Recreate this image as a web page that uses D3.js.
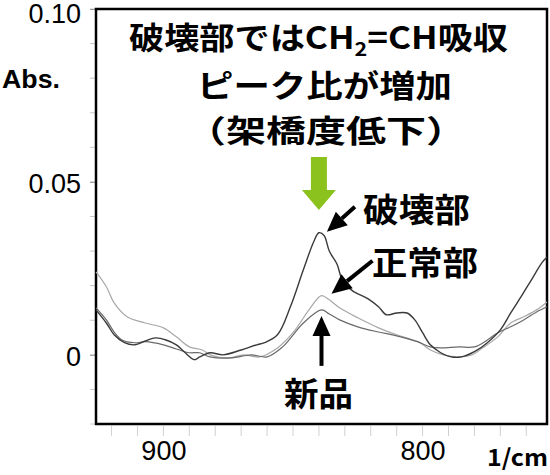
<!DOCTYPE html>
<html><head><meta charset="utf-8"/>
<script src="https://d3js.org/d3.v7.min.js"></script>
<style>
  body { margin: 0; padding: 0; background: #fff; }
  svg text { font-family: "Noto Sans CJK JP", "Noto Sans", sans-serif; }
  .num { font-family: "Liberation Sans", Arial, sans-serif; }
</style>
</head>
<body>
<div id="chart"></div>
<script>
// FT-IR spectra (wavenumber in 1/cm, absorbance)
const hakaiWn  = [926,922,919,915,911,907,903,899,895,892,888,886,882,877,870,864,861,856,851,846,842,840,838,836,833,831,827,821,817,814,810,806,803,800,797,793,789,785,780,775,770,766,762,758,754,752];
const hakaiAbs = [0.0130,0.0092,0.0058,0.0035,0.0029,0.0040,0.0049,0.0043,0.0029,0.0009,-0.0014,-0.0006,0.0006,0.0000,0.0014,0.0029,0.0035,0.0058,0.0139,0.0246,0.0327,0.0353,0.0345,0.0300,0.0262,0.0217,0.0185,0.0162,0.0139,0.0116,0.0121,0.0121,0.0101,0.0064,0.0029,0.0006,-0.0006,-0.0006,0.0009,0.0035,0.0072,0.0121,0.0168,0.0217,0.0266,0.0283];

const seijoWn  = [926,922,919,914,907,900,895,890,885,882,875,869,863,856,850,843,839,836,832,825,817,810,805,801,797,792,786,781,778,771,766,761,756,752];
const seijoAbs = [0.0240,0.0197,0.0150,0.0110,0.0092,0.0078,0.0052,0.0023,0.0014,0.0000,-0.0009,0.0000,-0.0006,0.0020,0.0064,0.0139,0.0171,0.0159,0.0136,0.0107,0.0078,0.0058,0.0046,0.0035,0.0014,0.0000,-0.0006,0.0000,0.0014,0.0052,0.0092,0.0110,0.0130,0.0153];

const shinpinWn  = [926,922,919,916,911,907,900,895,890,886,882,874,866,860,854,846,839,836,832,825,817,810,802,797,793,786,780,775,771,766,761,756,752];
const shinpinAbs = [0.0136,0.0101,0.0066,0.0043,0.0035,0.0038,0.0029,0.0017,0.0006,0.0006,-0.0006,-0.0009,0.0000,-0.0006,0.0023,0.0092,0.0130,0.0118,0.0101,0.0081,0.0066,0.0055,0.0038,0.0023,0.0020,0.0023,0.0023,0.0043,0.0064,0.0081,0.0101,0.0124,0.0139];

const xTicks = [900, 800];
const yTicks = [0, 0.05, 0.10];
const yTickLabels = ["0", "0.05", "0.10"];

const width = 550, height = 475;
const svg = d3.select("#chart").append("svg")
  .attr("width", width).attr("height", height);

const x = d3.scaleLinear().domain([926, 752]).range([96, 547]);
const y = d3.scaleLinear().domain([-0.02, 0.10]).range([424, 9]);

// faint minor ticks
svg.append("g")
  .selectAll("line").data(d3.range(-0.02, 0.1001, 0.01)).join("line")
  .attr("x1", 90).attr("x2", 96)
  .attr("y1", d => y(d)).attr("y2", d => y(d))
  .attr("stroke", "#c8c8c8").attr("stroke-width", 1);
svg.append("g")
  .selectAll("line").data(d3.range(920, 751, -10)).join("line")
  .attr("x1", d => x(d)).attr("x2", d => x(d))
  .attr("y1", 426).attr("y2", 436)
  .attr("stroke", "#d0d0d0").attr("stroke-width", 1);

// axes via d3
const yAxis = d3.axisLeft(y).tickValues(yTicks).tickSize(6)
  .tickFormat((d, i) => yTickLabels[i]);
const gy = svg.append("g").attr("transform", "translate(96,0)").call(yAxis);
gy.select(".domain").remove();
gy.selectAll(".tick line").attr("stroke", "#999");
gy.selectAll(".tick text").attr("class", "num").attr("x", -15)
  .attr("font-size", 27).attr("fill", "#000")
  .attr("dy", d => d === 0.10 ? "0.5em" : "0.38em");

const xAxis = d3.axisBottom(x).tickValues(xTicks).tickSize(0).tickFormat(d3.format("d"));
const gx = svg.append("g").attr("transform", "translate(0,424)").call(xAxis);
gx.select(".domain").remove();
gx.selectAll(".tick text").attr("class", "num").attr("dy", 0).attr("y", 36)
  .attr("font-size", 27).attr("fill", "#000");

// frame
svg.append("rect").attr("x", 96).attr("y", 9)
  .attr("width", 547 - 96).attr("height", 424 - 9)
  .attr("fill", "none").attr("stroke", "#000").attr("stroke-width", 2.5);

svg.append("text").attr("class", "num").attr("x", 2).attr("y", 88)
  .attr("font-size", 26).attr("font-weight", "bold")
  .attr("textLength", 58).attr("lengthAdjust", "spacingAndGlyphs").text("Abs.");
svg.append("text").attr("x", 487).attr("y", 466)
  .attr("font-size", 23).attr("font-weight", "bold")
  .attr("textLength", 61).attr("lengthAdjust", "spacingAndGlyphs").text("1/cm");

// spectra
const line = d3.line().x(d => x(d[0])).y(d => y(d[1])).curve(d3.curveCatmullRom.alpha(0.5));
const series = [
  { wn: seijoWn, abs: seijoAbs, color: "#a8a8a8", w: 1.2 },
  { wn: shinpinWn, abs: shinpinAbs, color: "#6a6a6a", w: 1.2 },
  { wn: hakaiWn, abs: hakaiAbs, color: "#3a3a3a", w: 1.4 }
];
svg.append("g")
  .selectAll("path").data(series).join("path")
  .attr("d", s => line(d3.zip(s.wn, s.abs)))
  .attr("fill", "none").attr("stroke", s => s.color).attr("stroke-width", s => s.w);

// peak of the CH2=CH band (searched between 830 and 850 1/cm)
function peak(wn, abs) {
  const idx = d3.range(wn.length).filter(i => wn[i] >= 830 && wn[i] <= 850);
  const i = idx[d3.maxIndex(idx, j => abs[j])];
  return [x(wn[i]), y(abs[i])];
}
const pH = peak(hakaiWn, hakaiAbs);
const pS = peak(seijoWn, seijoAbs);
const pN = peak(shinpinWn, shinpinAbs);

function arrow(x1, y1, x2, y2, color) {
  const a = Math.atan2(y2 - y1, x2 - x1);
  const hl = 20, hw = 9;
  const bx = x2 - hl * Math.cos(a), by = y2 - hl * Math.sin(a);
  svg.append("line").attr("x1", x1).attr("y1", y1).attr("x2", bx).attr("y2", by)
    .attr("stroke", color).attr("stroke-width", 4);
  const px = -Math.sin(a) * hw, py = Math.cos(a) * hw;
  svg.append("path")
    .attr("d", `M${x2},${y2}L${bx + px},${by + py}L${bx - px},${by - py}Z`)
    .attr("fill", color);
}
arrow(pH[0] + 36, pH[1] - 26, pH[0] + 8, pH[1] - 1, "#000");
arrow(pS[0] + 51, pS[1] - 35, pS[0] + 10, pS[1] - 2, "#000");
arrow(pN[0], pN[1] + 56, pN[0], pN[1] + 6, "#000");

// green arrow above the peak
const gxc = pH[0];
svg.append("path")
  .attr("d", `M${gxc - 8},157L${gxc + 8},157L${gxc + 8},190L${gxc + 17},190L${gxc},210L${gxc - 17},190L${gxc - 8},190Z`)
  .attr("fill", "#8cc21e");

// labels
const lab = (t, x0, y0, len) => svg.append("text").attr("x", x0).attr("y", y0)
  .attr("font-size", 33).attr("font-weight", "bold")
  .attr("textLength", len).attr("lengthAdjust", "spacingAndGlyphs").text(t);
lab("破壊部", 363, 222, 107);
lab("正常部", 372, 275, 106);
lab("新品", 284, 406, 69);

// title
const t1 = svg.append("text").attr("x", 129).attr("y", 49)
  .attr("font-size", 31).attr("font-weight", "bold")
  .attr("textLength", 379).attr("lengthAdjust", "spacingAndGlyphs");
t1.append("tspan").text("破壊部ではCH");
t1.append("tspan").attr("font-size", 19).attr("dy", 7).text("2");
t1.append("tspan").attr("dy", -7).text("=CH吸収");
svg.append("text").attr("x", 197).attr("y", 97)
  .attr("font-size", 31).attr("font-weight", "bold")
  .attr("textLength", 255).attr("lengthAdjust", "spacingAndGlyphs").text("ピーク比が増加");
svg.append("text").attr("x", 186).attr("y", 142)
  .attr("font-size", 31).attr("font-weight", "bold")
  .attr("textLength", 280).attr("lengthAdjust", "spacingAndGlyphs").text("（架橋度低下）");
</script>
</body></html>
